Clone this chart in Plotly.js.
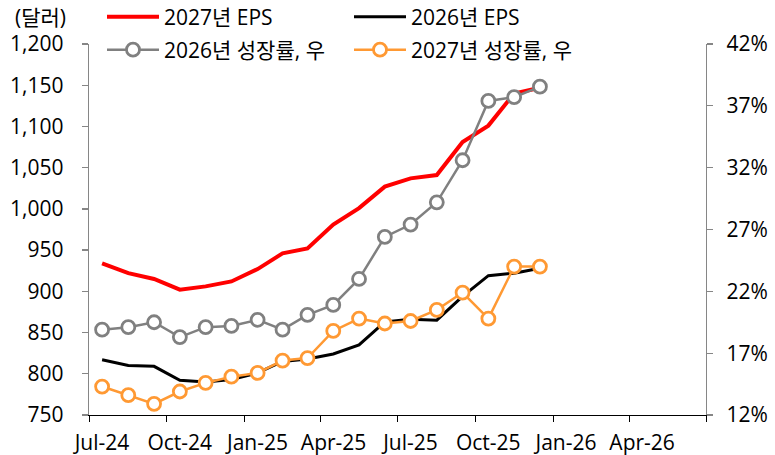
<!DOCTYPE html>
<html>
<head>
<meta charset="utf-8">
<script src="https://cdn.plot.ly/plotly-3.0.1.min.js"></script>
<style>html,body{margin:0;padding:0;background:#fff}#chart{width:775px;height:455px}</style>
</head>
<body>
<div id="chart"></div>
<script>
// Months (each point sits in the middle of its month)
const months = ['2024-07','2024-08','2024-09','2024-10','2024-11','2024-12',
                '2025-01','2025-02','2025-03','2025-04','2025-05','2025-06',
                '2025-07','2025-08','2025-09','2025-10','2025-11','2025-12'];
// 2027 EPS (left axis, dollars)
const eps2027 = [934, 922, 915, 902, 906, 912, 927, 946, 952, 981, 1001, 1027, 1037, 1041, 1081, 1101, 1140, 1147];
// 2026 EPS (left axis, dollars)
const eps2026 = [817, 810, 809, 792, 790, 793, 801, 815, 818, 824, 835, 863, 866, 865, 894, 919, 922, 928];
// 2026 growth rate (right axis, %)
const growth2026 = [18.9, 19.1, 19.5, 18.3, 19.1, 19.2, 19.7, 18.9, 20.1, 20.9, 23.0, 26.4, 27.4, 29.2, 32.6, 37.4, 37.7, 38.55];
// 2027 growth rate (right axis, %)
const growth2027 = [14.3, 13.6, 12.9, 13.9, 14.6, 15.1, 15.4, 16.4, 16.6, 18.8, 19.8, 19.4, 19.6, 20.5, 21.9, 19.8, 24.0, 24.0];
// X tick positions and labels
const xTickVals = ['2024-07-01','2024-10-01','2025-01-01','2025-04-01','2025-07-01','2025-10-01','2026-01-01','2026-04-01','2026-07-01'];
const xTickText = ['Jul-24','Oct-24','Jan-25','Apr-25','Jul-25','Oct-25','Jan-26','Apr-26',''];

const FONT = '"Open Sans", "Noto Sans CJK KR", sans-serif';
const FS = 21;

const traces = [
  {x: months, y: eps2027, name: '2027년 EPS', type: 'scatter', mode: 'lines',
   xperiod: 'M1', xperiodalignment: 'middle',
   line: {color: '#FF0000', width: 4}, yaxis: 'y', legend: 'legend'},
  {x: months, y: eps2026, name: '2026년 EPS', type: 'scatter', mode: 'lines',
   xperiod: 'M1', xperiodalignment: 'middle',
   line: {color: '#000000', width: 3}, yaxis: 'y', legend: 'legend'},
  {x: months, y: growth2026, name: '2026년 성장률, 우', type: 'scatter', mode: 'lines+markers',
   xperiod: 'M1', xperiodalignment: 'middle',
   line: {color: '#808080', width: 2.5},
   marker: {symbol: 'circle', size: 13, color: '#FFFFFF', line: {color: '#808080', width: 2.8}},
   yaxis: 'y2', legend: 'legend2'},
  {x: months, y: growth2027, name: '2027년 성장률, 우', type: 'scatter', mode: 'lines+markers',
   xperiod: 'M1', xperiodalignment: 'middle',
   line: {color: '#FF9933', width: 2.5},
   marker: {symbol: 'circle', size: 13, color: '#FFFFFF', line: {color: '#FF9933', width: 2.8}},
   yaxis: 'y2', legend: 'legend2'}
];

const legendCommon = {
  orientation: 'h', xref: 'container', yref: 'container',
  xanchor: 'left', yanchor: 'middle',
  font: {family: FONT, size: FS, color: '#000'},
  bgcolor: 'rgba(0,0,0,0)', borderwidth: 0,
  itemwidth: 52, entrywidth: 180, itemclick: false, itemdoubleclick: false,
  traceorder: 'normal'
};

const layout = {
  width: 775, height: 455,
  margin: {l: 89, r: 69, t: 44, b: 40, pad: 0, autoexpand: false},
  paper_bgcolor: '#FFFFFF', plot_bgcolor: '#FFFFFF',
  font: {family: FONT, size: FS, color: '#000'},
  showlegend: true,
  legend: Object.assign({}, legendCommon, {x: 102/775, y: 1 - 17/455}),
  legend2: Object.assign({}, legendCommon, {x: 102/775, y: 1 - 50/455}),
  xaxis: {
    type: 'date', range: ['2024-07-01', '2026-07-01'],
    tickmode: 'array', tickvals: xTickVals, ticktext: xTickText,
    ticks: 'outside', ticklen: 6, tickcolor: '#000', tickwidth: 1,
    showline: true, linecolor: '#000', linewidth: 1.3,
    showgrid: false, zeroline: false,
    ticklabelshift: 13, ticklabelstandoff: 2,
    tickfont: {family: FONT, size: FS, color: '#000'}
  },
  yaxis: {
    range: [750, 1200], dtick: 50, tick0: 750, tickformat: ',d',
    ticks: 'outside', ticklen: 6, tickcolor: '#868686', tickwidth: 1.3,
    showline: true, linecolor: '#868686', linewidth: 1.3,
    showgrid: false, zeroline: false,
    ticklabelstandoff: 14,
    tickfont: {family: FONT, size: FS, color: '#000'}
  },
  yaxis2: {
    overlaying: 'y', side: 'right', anchor: 'x',
    range: [12, 42], dtick: 5, tick0: 12, ticksuffix: '%',
    ticks: 'outside', ticklen: 6, tickcolor: '#868686', tickwidth: 1.3,
    showline: true, linecolor: '#868686', linewidth: 1.3,
    showgrid: false, zeroline: false,
    ticklabelstandoff: 9,
    tickfont: {family: FONT, size: FS, color: '#000'}
  },
  annotations: [{
    text: '(달러)', xref: 'paper', yref: 'paper',
    x: (13 - 89) / 617, y: (415 - 17) / 371, xanchor: 'left', yanchor: 'middle',
    showarrow: false, font: {family: FONT, size: FS, color: '#000'}
  }]
};

Plotly.newPlot('chart', traces, layout, {staticPlot: true, displayModeBar: false});
</script>
</body>
</html>
